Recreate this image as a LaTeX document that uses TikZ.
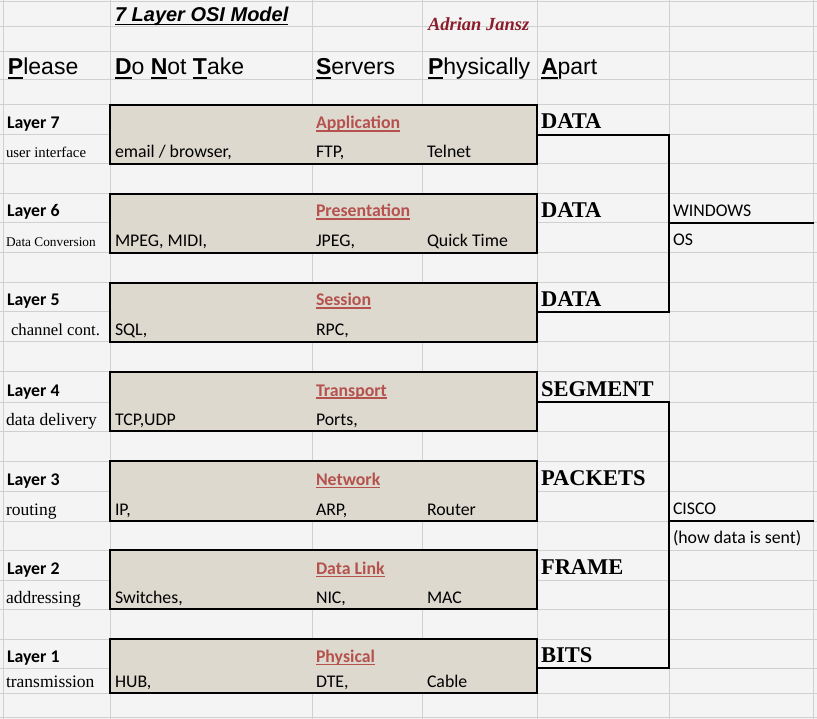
\documentclass[tikz,border=0pt]{standalone}
\usepackage{fontspec}
\setmainfont{Liberation Serif}
\newfontfamily\arialf{Liberation Sans}
\newfontfamily\calf{Carlito}
\definecolor{bgc}{HTML}{F4F4F4}
\definecolor{gridc}{HTML}{D0D0D0}
\definecolor{boxc}{HTML}{DDD9CF}
\definecolor{hdrc}{HTML}{B5524E}
\definecolor{sigc}{HTML}{8B1C2C}
\newcommand\ulin[3]{\setbox0=\hbox{#3}\rlap{\rule[-#1]{\wd0}{#2}}\box0}
\tikzset{
  txt/.style={anchor=base west, inner sep=0pt, outer sep=0pt},
  cal/.style={txt, font=\calf\fontsize{17.8}{20}\selectfont},
  calb/.style={txt, font=\calf\bfseries\fontsize{17.8}{20}\selectfont},
  hdr/.style={calb, text=hdrc},
  tnr/.style={txt, font=\fontsize{17.5}{20}\selectfont},
  unitw/.style={txt, font=\bfseries\fontsize{22.5}{26}\selectfont},
  mnem/.style={txt, font=\arialf\fontsize{23}{26}\selectfont},
  layerbox/.style={draw=black, line width=2.2pt, fill=boxc, anchor=north west, inner sep=0pt, outer sep=0pt, minimum width=427pt},
  bracket/.style={draw=black, line width=1.2pt},
  gridl/.style={draw=gridc, line width=1pt}
}
\newcommand\osilayer[9]{%
  \node[layerbox, minimum height=#3pt-#1pt] (box#4) at (110,#1) {};
  \node[calb] (lay#4) at (7,#2-6) {Layer #4};
  \node[tnr] (desc#4) at (6,#3-6) {#5};
  \node[hdr] (name#4) at (316,#2-6) {\ulin{2.6pt}{1.1pt}{#6}};
  \node[cal] (a#4) at (115,#3-6) {#7};
  \node[cal] (b#4) at (316,#3-6) {#8};
  \if\relax\detokenize{#9}\relax\else\node[cal] (c#4) at (427,#3-6) {#9};\fi
}
\begin{document}
\begin{tikzpicture}[x=1pt,y=-1pt]
\useasboundingbox (0,0) rectangle (817,719);
\fill[bgc] (0,0) rectangle (817,719);
\foreach \x in {3,110,312,422,537,669,813} \draw[gridl] (\x,0) -- (\x,719);
\foreach \y in {2,27,52,80,105,135,164,194,223,253,283,312,342,372,402,431,461,491,521,550,580,609,639,668,693,717} \draw[gridl] (0,\y) -- (817,\y);

% title row
\node[txt, font=\arialf\bfseries\itshape\fontsize{20}{24}\selectfont] (title) at (115,22) {\ulin{3.2pt}{1.6pt}{7 Layer OSI Model}};
\node[txt, font=\bfseries\itshape\fontsize{18.5}{22}\selectfont, text=sigc] (author) at (428,31) {Adrian Jansz};

% mnemonic row
\node[mnem] (please) at (8,75) {\ulin{3.6pt}{1.8pt}{\textbf{P}}lease};
\node[mnem] (dont) at (115,75) {\ulin{3.6pt}{1.8pt}{\textbf{D}}o \ulin{3.6pt}{1.8pt}{\textbf{N}}ot \ulin{3.6pt}{1.8pt}{\textbf{T}}ake};
\node[mnem] (servers) at (316,75) {\ulin{3.6pt}{1.8pt}{\textbf{S}}ervers};
\node[mnem] (phys) at (428,75) {\ulin{3.6pt}{1.8pt}{\textbf{P}}hysically};
\node[mnem] (apart) at (541,75) {\ulin{3.6pt}{1.8pt}{\textbf{A}}part};

% layers
\osilayer{105}{135}{164}{7}{\fontsize{14.8}{17}\selectfont user interface}{Application}{email / browser,}{FTP,}{Telnet}
\osilayer{194}{223}{253}{6}{\fontsize{13.3}{15}\selectfont Data Conversion}{Presentation}{MPEG, MIDI,}{JPEG,}{Quick Time}
\osilayer{283}{312}{342}{5}{\hspace*{5pt}\fontsize{16.7}{19}\selectfont channel cont.}{Session}{SQL,}{RPC,}{}
\osilayer{372}{402}{431}{4}{data delivery}{Transport}{TCP,UDP}{Ports,}{}
\osilayer{461}{491}{521}{3}{routing}{Network}{IP,}{ARP,}{Router}
\osilayer{550}{580}{609}{2}{addressing}{Data Link}{Switches,}{NIC,}{MAC}
\osilayer{639}{668}{693}{1}{transmission}{Physical}{HUB,}{DTE,}{Cable}

% data units
\node[unitw] (u7) at (541,129) {DATA};
\node[unitw] (u6) at (541,218) {DATA};
\node[unitw] (u5) at (541,307) {DATA};
\node[unitw] (u4) at (541,396) {SEGMENT};
\node[unitw] (u3) at (541,485) {PACKETS};
\node[unitw] (u2) at (541,574) {FRAME};
\node[unitw] (u1) at (541,662) {BITS};

% brackets
\coordinate (b1top) at (537,135);
\coordinate (b1bot) at (537,312);
\coordinate (b1mid) at (669,223);
\coordinate (b1end) at (814,223);
\draw[bracket] (b1top) -| (669,312) -- (b1bot);
\draw[bracket] (b1mid) -- (b1end);
\coordinate (b2top) at (537,402);
\coordinate (b2bot) at (537,668);
\coordinate (b2mid) at (669,521);
\coordinate (b2end) at (814,521);
\draw[bracket] (b2top) -| (669,668) -- (b2bot);
\draw[bracket] (b2mid) -- (b2end);

\node[cal] (win) at (673,217) {WINDOWS};
\node[cal] (os) at (673,246) {OS};
\node[cal] (cisco) at (673,514) {CISCO};
\node[cal] (how) at (673,543) {(how data is sent)};
\end{tikzpicture}
\end{document}
